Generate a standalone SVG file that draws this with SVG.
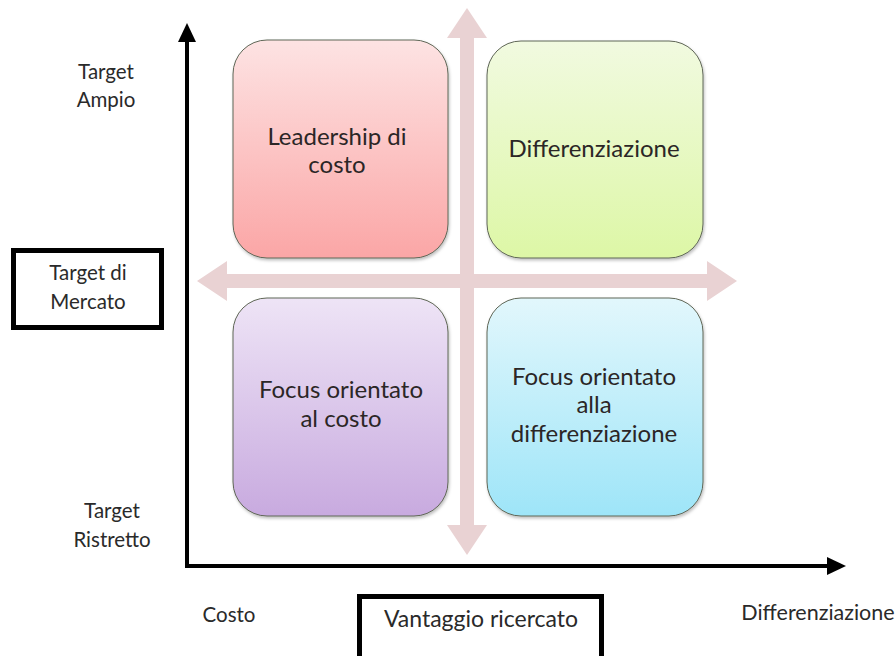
<svg xmlns="http://www.w3.org/2000/svg" width="896" height="656" viewBox="0 0 896 656">
  <defs>
    <linearGradient id="gPink" x1="0" y1="0" x2="0" y2="1">
      <stop offset="0" stop-color="#fde3e3"/>
      <stop offset="1" stop-color="#fba6a6"/>
    </linearGradient>
    <linearGradient id="gGreen" x1="0" y1="0" x2="0" y2="1">
      <stop offset="0" stop-color="#f1fae0"/>
      <stop offset="1" stop-color="#ddf7a6"/>
    </linearGradient>
    <linearGradient id="gPurple" x1="0" y1="0" x2="0" y2="1">
      <stop offset="0" stop-color="#eee4f6"/>
      <stop offset="1" stop-color="#c8aadf"/>
    </linearGradient>
    <linearGradient id="gBlue" x1="0" y1="0" x2="0" y2="1">
      <stop offset="0" stop-color="#e2f7fc"/>
      <stop offset="1" stop-color="#9ee5f8"/>
    </linearGradient>
    <filter id="shadow" x="-10%" y="-10%" width="120%" height="120%">
      <feDropShadow dx="1" dy="2" stdDeviation="1.5" flood-color="#000" flood-opacity="0.25"/>
    </filter>
  </defs>
  <style>
    .box { stroke: #5f6656; stroke-width: 1; filter: url(#shadow); }
    .quad { font-family: Lato, "Open Sans", sans-serif; font-size: 24px; fill: #2b2626; text-anchor: middle; }
    .lbl { font-family: Lato, "Open Sans", sans-serif; font-size: 20.5px; fill: #2a2a2a; text-anchor: middle; }
    .frame { fill: #fff; stroke: #000; stroke-width: 5; }
    .axis { stroke: #000; stroke-width: 4; fill: none; }
    .cross { fill: #e9d2d3; }
  </style>

  <rect width="896" height="656" fill="#fff"/>

  <!-- pale cross arrows behind the quadrants -->
  <g id="cross">
    <path class="cross" d="M467,8 L487,38 L474,38 L474,525 L487,525 L467,555 L447,525 L460,525 L460,38 L447,38 Z"/>
    <path class="cross" d="M197,281 L227,261 L227,274 L707,274 L707,261 L737,281 L707,301 L707,288 L227,288 L227,301 Z"/>
  </g>

  <!-- quadrant nodes -->
  <g id="leadership">
    <rect class="box" x="233" y="40" width="215" height="218" rx="34" fill="url(#gPink)"/>
    <text class="quad" x="337" y="145">Leadership di</text>
    <text class="quad" x="337" y="173">costo</text>
  </g>
  <g id="differenziazione">
    <rect class="box" x="487" y="41" width="216" height="217" rx="34" fill="url(#gGreen)"/>
    <text class="quad" x="594" y="157">Differenziazione</text>
  </g>
  <g id="focus-costo">
    <rect class="box" x="233" y="298" width="215" height="218" rx="34" fill="url(#gPurple)"/>
    <text class="quad" x="341" y="398">Focus orientato</text>
    <text class="quad" x="341" y="427">al costo</text>
  </g>
  <g id="focus-differenziazione">
    <rect class="box" x="487" y="298" width="216" height="218" rx="34" fill="url(#gBlue)"/>
    <text class="quad" x="594" y="385">Focus orientato</text>
    <text class="quad" x="594" y="413">alla</text>
    <text class="quad" x="594" y="442">differenziazione</text>
  </g>

  <!-- main axes -->
  <g id="axes">
    <path class="axis" d="M187,567 L187,38"/>
    <path d="M187,23 L196,42 L178,42 Z" fill="#000"/>
    <path class="axis" d="M185,566 L830,566"/>
    <path d="M846,566 L827,557 L827,575 Z" fill="#000"/>
  </g>

  <!-- axis labels -->
  <g id="target-ampio">
    <text class="lbl" x="106" y="79">Target</text>
    <text class="lbl" x="106" y="107">Ampio</text>
  </g>
  <g id="target-mercato">
    <rect class="frame" x="13.5" y="250.5" width="148" height="77"/>
    <text class="lbl" x="88" y="280">Target di</text>
    <text class="lbl" x="88" y="309">Mercato</text>
  </g>
  <g id="target-ristretto">
    <text class="lbl" x="112" y="518">Target</text>
    <text class="lbl" x="112" y="547">Ristretto</text>
  </g>
  <g id="costo">
    <text class="lbl" x="229" y="622">Costo</text>
  </g>
  <g id="vantaggio">
    <rect class="frame" x="359.5" y="596.5" width="242" height="70"/>
    <text class="lbl" x="481" y="627" style="font-size:23px">Vantaggio ricercato</text>
  </g>
  <g id="differenziazione-label">
    <text class="lbl" x="818" y="620" style="font-size:21.5px">Differenziazione</text>
  </g>
</svg>
